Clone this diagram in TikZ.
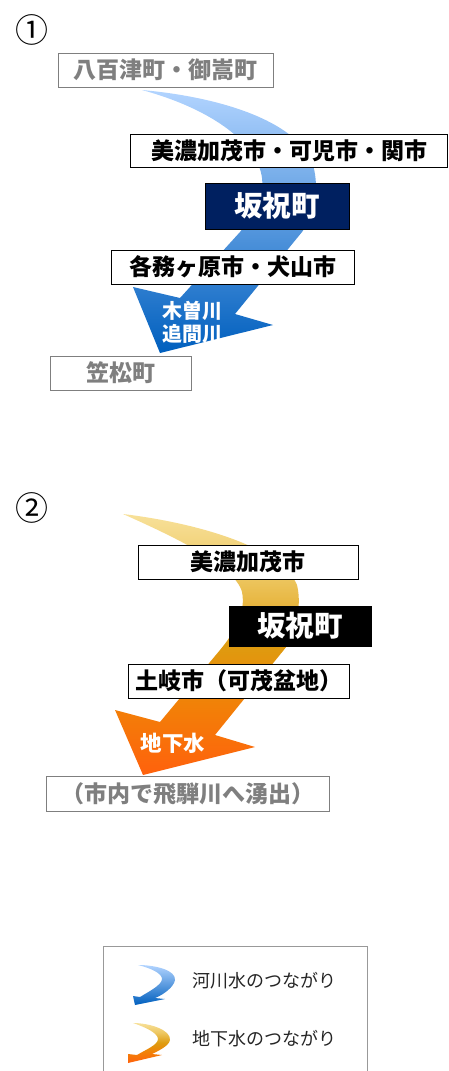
\documentclass[tikz,border=0pt]{standalone}
\usepackage{fontspec}
\setmainfont{Noto Sans CJK JP}
\usepackage{xcolor}
\usetikzlibrary{
    arrows.meta,
    shapes,
    positioning,
    calc
}
\definecolor{navy}{HTML}{002060}
\definecolor{boxgray}{HTML}{7F7F7F}
\definecolor{riverTop}{RGB}{178,212,255}
\definecolor{riverMid}{RGB}{112,170,240}
\definecolor{riverBot}{RGB}{0,95,190}
% groundwater: pale yellow -> gold -> orange
\pgfdeclareverticalshading{groundflow}{100bp}{%
    rgb(0bp)=(1,0.38,0.05); rgb(25bp)=(1,0.38,0.05);
    rgb(38bp)=(0.95,0.50,0.03); rgb(50bp)=(0.87,0.61,0.06);
    rgb(63bp)=(0.93,0.78,0.38); rgb(75bp)=(0.97,0.88,0.60);
    rgb(100bp)=(0.97,0.88,0.60)}
\tikzset{%
    % Specifications for style of nodes:
    plain/.style = {},
    base/.style = {
        plain,
        rectangle, draw=black, fill=white,
        inner sep=0pt, minimum height=34pt,
        text centered, align=center,
        font=\bfseries\fontsize{23}{27}\selectfont
    },
    faded/.style = {base, draw=boxgray, text=boxgray},
    hub/.style = {base, fill=navy, text=white,
        font=\bfseries\fontsize{28.5}{32}\selectfont},
    onflow/.style = {text=white, align=center, inner sep=0pt},
    num/.style = {font=\fontsize{33}{35}\selectfont, inner sep=0pt},
    legendtext/.style = {anchor=west, inner sep=0pt, text=black!85,
        font=\fontsize{18}{21}\selectfont},
    river/.style = {top color=riverTop, middle color=riverMid, bottom color=riverBot},
    ground/.style = {shading=groundflow}
}

\begin{document}
\begin{tikzpicture}[x=1pt, y=-1pt]
    \useasboundingbox (0,0) rectangle (448,1071);

    % (1) river water
    \node[num] (n1) at (32,30) {①};
    \shade[river] (142,90) .. controls (230,98) and (300,125) .. (313,165)
        .. controls (320,190) and (314,215) .. (302,232) -- (235,314)
        -- (273,325) -- (160,353) -- (133,287) -- (180,298) -- (240,232)
        .. controls (256,212) and (264,195) .. (262,178)
        .. controls (258,145) and (215,110) .. (142,90) -- cycle;
    \node[faded, minimum width=215pt] (yaotsu) at (165.5,70) {八百津町・御嵩町};
    \node[base, minimum width=317pt, minimum height=33pt] (minokamo) at (289,150.5) {美濃加茂市・可児市・関市};
    \node[hub, minimum width=144pt, minimum height=46pt] (sakahogi) at (277,206) {坂祝町};
    \node[base, minimum width=243pt] (kakamigahara) at (232.5,267) {各務ヶ原市・犬山市};
    \node[faded, minimum width=141pt] (kasamatsu) at (120.5,373) {笠松町};
    \node[onflow, font=\bfseries\fontsize{20}{23}\selectfont] (kisogawa) at (192,322) {木曽川\\追間川};

    % (2) groundwater
    \node[num] (n2) at (32,508) {②};
    \shade[ground] (123,514) .. controls (190,522) and (280,545) .. (297,585)
        .. controls (302,605) and (296,630) .. (287,646) -- (215,735)
        -- (255,747) -- (143,775) -- (115,710) -- (160,722) -- (220,650)
        .. controls (235,632) and (246,612) .. (242,592)
        .. controls (235,565) and (170,535) .. (123,514) -- cycle;
    \node[base, minimum width=220pt] (minokamo2) at (248,562) {美濃加茂市};
    \node[hub, fill=black, minimum width=142pt, minimum height=40pt] (sakahogi2) at (300,626) {坂祝町};
    \node[base, minimum width=221pt] (toki) at (238.5,681) {土岐市（可茂盆地）};
    \node[faded, minimum width=283pt, minimum height=35pt] (hida) at (187.5,793.5) {（市内で飛騨川へ湧出）};
    \node[onflow, font=\bfseries\fontsize{21.5}{24}\selectfont] (chikasui) at (173,743) {地下水};

    % legend
    \draw[black!40] (103,1076) -- (103,946) -- (367,946) -- (367,1076);
    \shade[river] (138,965) .. controls (155,965) and (176,970) .. (175,980)
        .. controls (174,987) and (163,995) .. (155,998) -- (165,999)
        -- (135,1005) -- (133,996) -- (140,997)
        .. controls (148,992) and (162,985) .. (162,979)
        .. controls (162,973) and (150,968) .. (138,965) -- cycle;
    \shade[ground] (133,1023) .. controls (150,1023) and (171,1030) .. (170,1040)
        .. controls (169,1046) and (158,1051) .. (152,1054) -- (162,1055)
        -- (128,1063) -- (128,1054) -- (137,1055)
        .. controls (145,1050) and (158,1045) .. (158,1039)
        .. controls (158,1033) and (145,1027) .. (133,1023) -- cycle;
    \node[legendtext] (riverkey) at (192,981) {河川水のつながり};
    \node[legendtext] (groundkey) at (192,1039) {地下水のつながり};
\end{tikzpicture}
\end{document}
